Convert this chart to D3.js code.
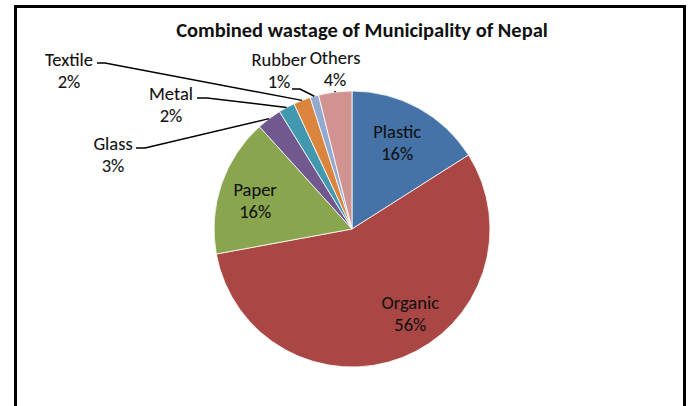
<!DOCTYPE html>
<html>
<head>
<meta charset="utf-8">
<script src="https://cdn.jsdelivr.net/npm/d3@7"></script>
<style>
    body { margin: 0; background: #fff; }
    #chart-area { width: 692px; height: 406px; }
    text { font-family: Carlito, Lato, "Noto Sans", sans-serif; fill: #111; }
    .in-label, .out-label { stroke: #222; stroke-width: 0.1px; }
</style>
</head>
<body>
<div id="chart-area"></div>
<script>

// data
let categories = ["Plastic", "Organic", "Paper", "Glass", "Metal", "Textile", "Rubber", "Others"];
let shares = [16.0, 56.1, 16.2, 2.9, 1.9, 2.0, 1.0, 3.9];
let sliceColors = ["#4572A7", "#AA4643", "#89A54E", "#71588F", "#4198AF", "#DB843D", "#93A9CF", "#D19392"];

// labels that sit outside the pie (label anchor, leader elbow)
let outsideLabels = {
    Glass:   { x: 113, y: 150, elbow: [145, 148], end: [136, 148] },
    Metal:   { x: 171, y: 100, elbow: [207, 98], end: [197, 98] },
    Textile: { x: 69,  y: 66,  elbow: [105, 63], end: [97, 63] },
    Rubber:  { x: 279, y: 66,  elbow: [300, 89], end: [292, 89] },
    Others:  { x: 335, y: 64,  elbow: [335, 91], end: [335, 91] }
};
// small shifts for the labels inside the slices
let insideNudge = { Plastic: [0, 0], Organic: [24, 2], Paper: [-8, 6] };


class PieVis {

    constructor(parentElement) {
        this.parentElement = parentElement;
        this.initVis();
    }

    initVis() {
        let vis = this;

        vis.width = 692;
        vis.height = 406;
        vis.cx = 352;
        vis.cy = 229;
        vis.radius = 138;

        vis.svg = d3.select("#" + vis.parentElement).append("svg")
            .attr("width", vis.width)
            .attr("height", vis.height);

        // frame
        vis.svg.append("rect")
            .attr("x", 15.5)
            .attr("y", 6.5)
            .attr("width", 669)
            .attr("height", 430)
            .attr("fill", "none")
            .attr("stroke", "#000")
            .attr("stroke-width", 3);

        // title
        vis.svg.append("text")
            .attr("class", "title")
            .attr("x", 362)
            .attr("y", 37)
            .attr("text-anchor", "middle")
            .style("font-weight", "bold")
            .style("font-size", "20.5px")
            .text("Combined wastage of Municipality of Nepal");

        vis.data = categories.map((c, i) => ({ name: c, value: shares[i], color: sliceColors[i] }));

        vis.pie = d3.pie()
            .sort(null)
            .value(d => d.value);

        vis.arc = d3.arc()
            .innerRadius(0)
            .outerRadius(vis.radius);

        vis.labelArc = d3.arc()
            .innerRadius(vis.radius * 0.68)
            .outerRadius(vis.radius * 0.68);

        vis.g = vis.svg.append("g")
            .attr("transform", `translate(${vis.cx}, ${vis.cy})`);

        vis.updateVis();
    }

    updateVis() {
        let vis = this;
        let arcs = vis.pie(vis.data);

        vis.g.selectAll(".slice")
            .data(arcs)
            .enter()
            .append("path")
            .attr("class", "slice")
            .attr("d", vis.arc)
            .attr("fill", d => d.data.color)
            .attr("stroke", "#fff")
            .attr("stroke-width", 0.8);

        let pct = d => Math.round(d.data.value) + "%";

        // inside labels
        let inside = arcs.filter(d => !outsideLabels[d.data.name]);
        let inLab = vis.g.selectAll(".in-label")
            .data(inside)
            .enter()
            .append("text")
            .attr("class", "in-label")
            .attr("text-anchor", "middle")
            .style("font-size", "18.5px")
            .attr("transform", d => {
                let c = vis.labelArc.centroid(d);
                let n = insideNudge[d.data.name] || [0, 0];
                return `translate(${c[0] + n[0]}, ${c[1] + n[1]})`;
            });
        inLab.append("tspan").attr("x", 0).attr("dy", "-0.5em").text(d => d.data.name);
        inLab.append("tspan").attr("x", 0).attr("dy", "1.2em").text(pct);

        // outside labels with leader lines
        let outside = arcs.filter(d => outsideLabels[d.data.name]);

        vis.svg.selectAll(".leader")
            .data(outside)
            .enter()
            .append("polyline")
            .attr("class", "leader")
            .attr("fill", "none")
            .attr("stroke", "#000")
            .attr("stroke-width", 1.5)
            .attr("points", d => {
                let o = outsideLabels[d.data.name];
                let mid = (d.startAngle + d.endAngle) / 2;
                let px = vis.cx + vis.radius * Math.sin(mid);
                let py = vis.cy - vis.radius * Math.cos(mid);
                return [[px, py], o.elbow, o.end].map(p => p.join(",")).join(" ");
            });

        let outLab = vis.svg.selectAll(".out-label")
            .data(outside)
            .enter()
            .append("text")
            .attr("class", "out-label")
            .attr("text-anchor", "middle")
            .style("font-size", "18.5px")
            .attr("transform", d => `translate(${outsideLabels[d.data.name].x}, ${outsideLabels[d.data.name].y})`);
        outLab.append("tspan").attr("x", 0).attr("dy", 0).text(d => d.data.name);
        outLab.append("tspan").attr("x", 0).attr("dy", "1.2em").text(pct);
    }
}

let myPieVis = new PieVis("chart-area");

</script>
</body>
</html>
